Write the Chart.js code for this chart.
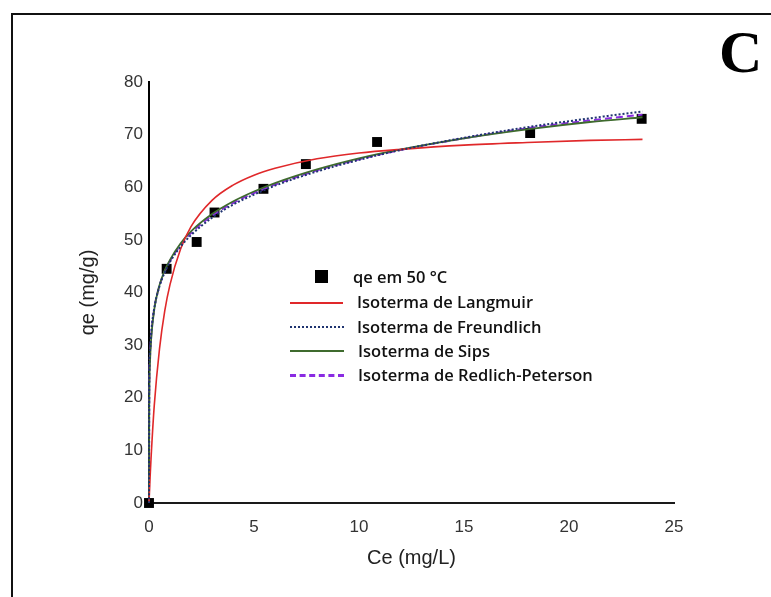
<!DOCTYPE html>
<html>
<head>
<meta charset="utf-8">
<script src="https://cdn.jsdelivr.net/npm/chart.js@4.4.1/dist/chart.umd.min.js"></script>
<style>
  html, body { margin: 0; padding: 0; background: #fff; }
  body { width: 771px; height: 597px; position: relative; overflow: hidden; }
  #frame { position: absolute; left: 11px; top: 13px; width: 800px; height: 700px; border-left: 2.5px solid #111; border-top: 2.5px solid #111; }
  #c { position: absolute; left: 0; top: 0; }
  #letter { position: absolute; left: 719px; top: 16px; font-family: "Liberation Serif", "DejaVu Serif", serif; font-weight: bold; font-size: 60px; line-height: 72px; color: #000; }
  .lg { position: absolute; font-family: "Open Sans", "Noto Sans", sans-serif; font-weight: 600; font-size: 16.5px; color: #111; white-space: nowrap; line-height: 22px; }
  .sw { position: absolute; height: 0; }
  .sq { position: absolute; width: 13px; height: 13px; background: #000; }
</style>
</head>
<body>
<div id="frame"></div>
<canvas id="c" width="771" height="597"></canvas>
<div id="letter">C</div>

<div class="sq" style="left:315px; top:270px;"></div>
<div class="lg" style="left:353px; top:266px;">qe em 50 °C</div>

<div class="sw" style="left:290px; width:53px; top:302px; border-top:2px solid #e0282a;"></div>
<div class="lg" style="left:357px; top:291px;">Isoterma de Langmuir</div>

<div class="sw" style="left:290px; width:54px; top:326px; border-top:2.5px dotted #1f3470;"></div>
<div class="lg" style="left:357px; top:316px;">Isoterma de Freundlich</div>

<div class="sw" style="left:290px; width:54px; top:350px; border-top:2px solid #3f6b2e;"></div>
<div class="lg" style="left:358px; top:340px;">Isoterma de Sips</div>

<div class="sw" style="left:290px; width:54px; top:374px; border-top:3px dashed #8a2be2;"></div>
<div class="lg" style="left:358px; top:364px;">Isoterma de Redlich-Peterson</div>

<script>
const ceData = [0, 0.84, 2.27, 3.12, 5.45, 7.47, 10.86, 18.15, 23.46];
const qeData = [0, 44.5, 49.6, 55.2, 59.7, 64.4, 68.6, 70.3, 73.0];

// Model curves
const ceCurve = [0, 0.01, 0.05, 0.1, 0.25, 0.5, 0.75, 1, 1.5, 2, 3, 4, 5, 6, 8, 10, 12, 15, 18, 21, 23.5];
const langmuir = [0, 1.0, 4.7, 8.7, 18.5, 29.3, 36.5, 41.5, 48.2, 52.5, 57.5, 60.4, 62.3, 63.6, 65.4, 66.5, 67.2, 68.0, 68.5, 68.9, 69.1];
const freundlich = [0, 22.6, 28.9, 32.2, 37.0, 41.2, 43.8, 45.8, 48.7, 50.9, 54.2, 56.7, 58.6, 60.3, 63.0, 65.2, 67.1, 69.4, 71.4, 73.1, 74.4];
const sips = [0, 18, 27, 31, 36.8, 41.4, 44.2, 46.2, 49.3, 51.6, 54.9, 57.3, 59.2, 60.8, 63.4, 65.5, 67.2, 69.3, 71.0, 72.4, 73.3];
const redlich = [0, 20, 28, 31.6, 36.9, 41.3, 44.0, 46.0, 49.0, 51.3, 54.6, 57.0, 58.9, 60.5, 63.2, 65.3, 67.1, 69.3, 71.2, 72.7, 73.8];

const xTicks = [0, 5, 10, 15, 20, 25];
const yTicks = [0, 10, 20, 30, 40, 50, 60, 70, 80];

function pts(xs, ys) { return xs.map((x, i) => ({ x: x, y: ys[i] })); }
function curve(label, ys, color, width, dash, order) {
  return {
    type: 'line', label: label, data: pts(ceCurve, ys), borderColor: color, backgroundColor: color,
    borderWidth: width, borderDash: dash, pointRadius: 0, showLine: true, fill: false,
    cubicInterpolationMode: 'monotone', clip: false, order: order
  };
}

const tickFont = { family: '"Liberation Sans", Arial, sans-serif', size: 17 };
const titleFont = { family: '"Liberation Sans", Arial, sans-serif', size: 20 };

new Chart(document.getElementById('c'), {
  type: 'scatter',
  data: {
    datasets: [
      { label: 'qe em 50 °C', data: pts(ceData, qeData), pointStyle: 'rect', pointRadius: 7, pointHoverRadius: 7,
        backgroundColor: '#000', borderColor: '#000', borderWidth: 0, showLine: false, clip: false, order: 10 },
      curve('Isoterma de Langmuir', langmuir, '#e0282a', 1.6, [], 2),
      curve('Isoterma de Freundlich', freundlich, '#1f3470', 2, [2, 2], 1),
      curve('Isoterma de Sips', sips, '#3f6b2e', 1.8, [], 3),
      curve('Isoterma de Redlich-Peterson', redlich, '#8a2be2', 2, [7, 4], 4)
    ]
  },
  options: {
    responsive: false,
    animation: false,
    devicePixelRatio: 1,
    layout: { padding: { top: 82, right: 97, bottom: 0, left: 0 } },
    plugins: { legend: { display: false }, tooltip: { enabled: false } },
    scales: {
      x: {
        type: 'linear', min: 0, max: 25,
        afterBuildTicks: (s) => { s.ticks = xTicks.map(v => ({ value: v })); },
        afterFit: (s) => { s.height = 94; },
        ticks: { font: tickFont, color: '#333', padding: 14 },
        grid: { display: false, drawTicks: false },
        border: { display: true, color: '#1a1a1a', width: 2 },
        title: { display: true, text: 'Ce (mg/L)', font: titleFont, color: '#222', padding: { top: 0, bottom: 27 } }
      },
      y: {
        type: 'linear', min: 0, max: 80,
        afterBuildTicks: (s) => { s.ticks = yTicks.map(v => ({ value: v })); },
        afterFit: (s) => { s.width = 149; },
        ticks: { font: tickFont, color: '#333', padding: 6 },
        grid: { display: false, drawTicks: false },
        border: { display: true, color: '#000', width: 2 },
        title: { display: true, text: 'qe (mg/g)', font: titleFont, color: '#222', padding: { top: 76, bottom: 0 } }
      }
    }
  }
});
</script>
</body>
</html>
